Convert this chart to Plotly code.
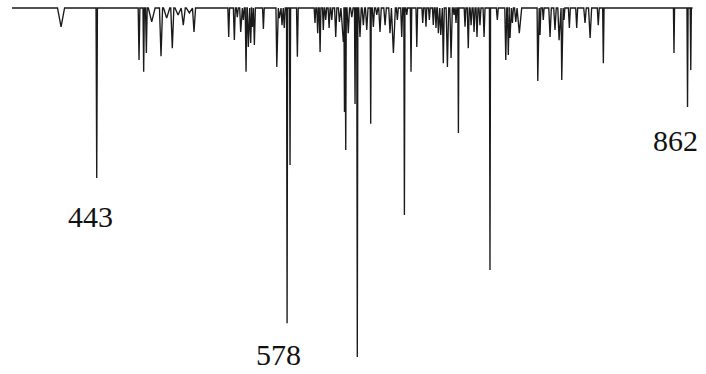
import plotly.graph_objects as go

# Spectral line list (wavelength nm), relative depth of each line (0..1), line half-width (nm)
wavelengths = [417.7, 443.0, 473.0, 476.3, 478.2, 482.0, 488.6, 492.6, 496.6, 500.7, 504.4, 508.7, 512.0,
               536.6, 540.6, 542.7, 545.1, 547.0, 548.9, 550.5, 552.2, 553.4, 554.8, 561.2, 570.7, 572.5,
               574.4, 576.0, 578.0, 580.1, 585.3,
               597.8, 599.7, 601.4, 603.7, 605.4, 607.8, 609.7, 612.5, 615.1, 617.9, 618.7, 619.6, 621.4,
               623.9, 626.2, 627.8, 629.7, 632.1, 634.5, 637.3, 639.2, 641.6, 643.9, 647.5, 651.0, 653.4,
               656.2, 659.3, 661.2, 662.9, 665.9, 670.0, 674.2, 676.5, 678.9, 681.7, 683.6, 685.3, 687.0,
               688.8, 691.7, 694.3, 696.4, 697.8, 699.5, 704.2, 706.5, 708.5, 710.6, 712.7, 714.8, 717.7,
               721.9, 727.1, 733.1, 734.9, 736.1, 737.8, 740.2, 742.7, 755.8, 757.4, 759.7, 764.5, 768.0,
               770.9, 772.8, 774.4, 778.2, 783.4, 789.3, 792.9, 798.7, 802.3, 852.4, 862.0, 864.3]
depths = [0.054, 0.487, 0.149, 0.183, 0.129, 0.040, 0.138, 0.029, 0.115, 0.020, 0.049, 0.014, 0.069,
          0.083, 0.092, 0.026, 0.069, 0.034, 0.183, 0.112, 0.100, 0.054, 0.106, 0.060, 0.169, 0.029,
          0.049, 0.057, 0.903, 0.450, 0.140,
          0.043, 0.072, 0.126, 0.063, 0.034, 0.057, 0.034, 0.083, 0.040, 0.097, 0.298, 0.407, 0.072,
          0.026, 0.275, 1.000, 0.083, 0.049, 0.063, 0.332, 0.054, 0.020, 0.069, 0.049, 0.072, 0.129,
          0.034, 0.083, 0.593, 0.020, 0.183, 0.112, 0.043, 0.054, 0.034, 0.049, 0.057, 0.072, 0.077,
          0.158, 0.169, 0.143, 0.020, 0.043, 0.358, 0.054, 0.115, 0.049, 0.069, 0.083, 0.049, 0.083,
          0.751, 0.034, 0.149, 0.135, 0.086, 0.043, 0.040, 0.072, 0.209, 0.077, 0.034, 0.083, 0.063,
          0.092, 0.206, 0.034, 0.057, 0.057, 0.043, 0.086, 0.049, 0.158, 0.129, 0.284, 0.178]
halfwidths = [2.5, 0.5, 0.6, 0.5, 0.6, 2.4, 1.1, 2.2, 1.1, 2.2, 1.4, 2.2, 1.1,
              0.6, 0.7, 0.7, 0.7, 0.7, 0.6, 0.7, 0.7, 0.7, 0.7, 0.6, 0.6, 0.7,
              0.7, 0.7, 0.4, 0.4, 0.6,
              0.6, 0.6, 0.6, 0.6, 0.7, 0.7, 0.7, 0.8, 0.7, 1.7, 0.4, 0.4, 0.9,
              0.9, 0.4, 0.4, 0.9, 0.9, 0.9, 0.4, 0.8, 0.8, 0.9, 0.9, 0.9, 1.4,
              0.7, 0.7, 0.4, 0.6, 0.5, 0.6, 0.6, 0.6, 0.6, 0.6, 0.6, 0.7, 0.7,
              0.7, 0.9, 0.9, 0.6, 0.6, 0.4, 0.6, 0.7, 0.7, 0.7, 0.7, 0.7, 0.7,
              0.4, 0.7, 0.7, 0.7, 0.7, 0.7, 0.9, 1.7, 0.5, 0.6, 0.6, 0.9, 0.9,
              0.9, 0.5, 0.6, 0.7, 0.7, 0.9, 1.1, 0.7, 0.5, 0.4, 0.4, 0.4]
baseline_start, baseline_end = 382.9, 865.6
label_texts = ["443", "578", "862"]

# Build polyline: baseline with a V-shaped dip for every line
xs = [baseline_start]
ys = [1.0]
for w, d, hw in sorted(zip(wavelengths, depths, halfwidths)):
    xs += [w - hw, w, w + hw]
    ys += [1.0, 1.0 - d, 1.0]
xs.append(baseline_end)
ys.append(1.0)

fig = go.Figure()
fig.add_trace(go.Scatter(x=xs, y=ys, mode="lines",
                         line=dict(color="#1a1a1a", width=1.35),
                         hoverinfo="skip", showlegend=False))

label_pos = [(0.128, 0.422), (0.395, 0.051), (0.9575, 0.623)]
for t, (px, py) in zip(label_texts, label_pos):
    fig.add_annotation(text=t, xref="paper", yref="paper", x=px, y=py,
                       showarrow=False, xanchor="center", yanchor="middle",
                       font=dict(family="Liberation Serif", size=30, color="#111"))

fig.update_layout(
    width=706, height=374,
    margin=dict(l=0, r=0, t=0, b=0),
    paper_bgcolor="white", plot_bgcolor="white",
    xaxis=dict(range=[374.4, 875.1], visible=False, fixedrange=True),
    yaxis=dict(range=[-0.0487, 1.0229], visible=False, fixedrange=True),
)
fig.write_html("out.html")
